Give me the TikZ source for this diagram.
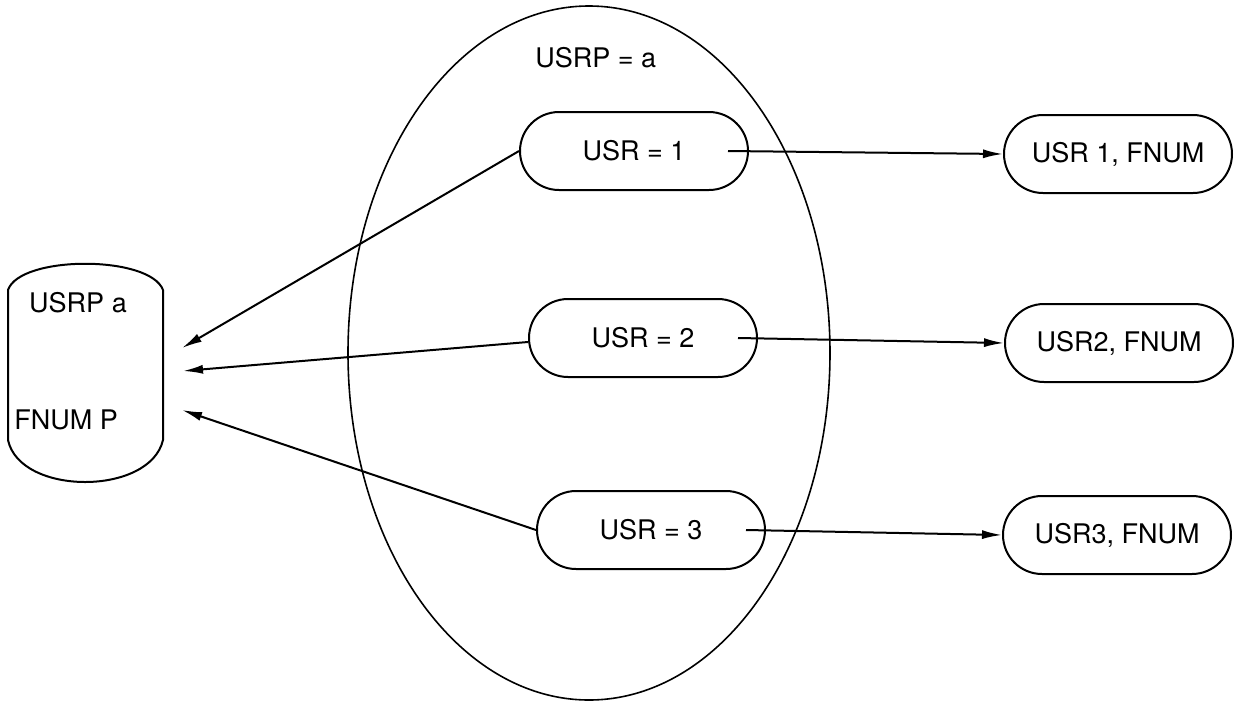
\documentclass[tikz,border=0pt]{standalone}
\usepackage{fontspec}
\setmainfont{TeX Gyre Heros}
\usetikzlibrary{arrows.meta,shapes.misc,shapes.geometric}
\begin{document}
\begin{tikzpicture}[x=0.5pt,y=-0.5pt,
  txt/.style={font=\fontsize{13.5}{16}\selectfont,inner sep=0pt},
  pill/.style={draw,line width=1pt,rounded rectangle,minimum width=114pt,minimum height=39pt,inner sep=0pt,font=\fontsize{13.5}{16}\selectfont},
  arr/.style={line width=1pt,-{Latex[length=10pt,width=4.5pt]}}]
\useasboundingbox (0,0) rectangle (1244,703);
% big ellipse
\node (ell) [draw,line width=0.8pt,ellipse,inner sep=0pt,minimum width=241pt,minimum height=347pt] at (589,353) {};
\node (lab) [txt,anchor=west] at (535,58) {USRP = a};
% left node
\draw[line width=1pt] (8,290) .. controls (20,255) and (150,255) .. (163,290)
  -- (163,440) .. controls (150,496) and (20,496) .. (8,440) -- cycle;
\node (ua) [txt] at (78,303) {USRP a};
\node (fp) [txt,anchor=west] at (14,420) {FNUM P};
\coordinate (t1) at (182,348);
\coordinate (t2) at (183,371);
\coordinate (t3) at (182,410);
% middle pills
\node (u1) [pill] at (634,151) {USR = 1\hspace{14pt}};
\node (u2) [pill] at (643,338) {USR = 2\hspace{18pt}};
\node (u3) [pill] at (651,530) {USR = 3\hspace{18pt}};
% right pills
\node (r1) [pill] at (1118,154) {USR 1, FNUM};
\node (r2) [pill] at (1119,343) {USR2, FNUM};
\node (r3) [pill] at (1117,535) {USR3, FNUM};
% arrows
\draw[arr] ([xshift=-10.5pt]u1.east) -- (r1.west);
\draw[arr] ([xshift=-10pt]u2.east) -- (r2.west);
\draw[arr] ([xshift=-10pt]u3.east) -- (r3.west);
\draw[arr] (u1.west) -- (t1);
\draw[arr] ([yshift=-2pt]u2.west) -- (t2);
\draw[arr] (u3.west) -- (t3);
\end{tikzpicture}
\end{document}
